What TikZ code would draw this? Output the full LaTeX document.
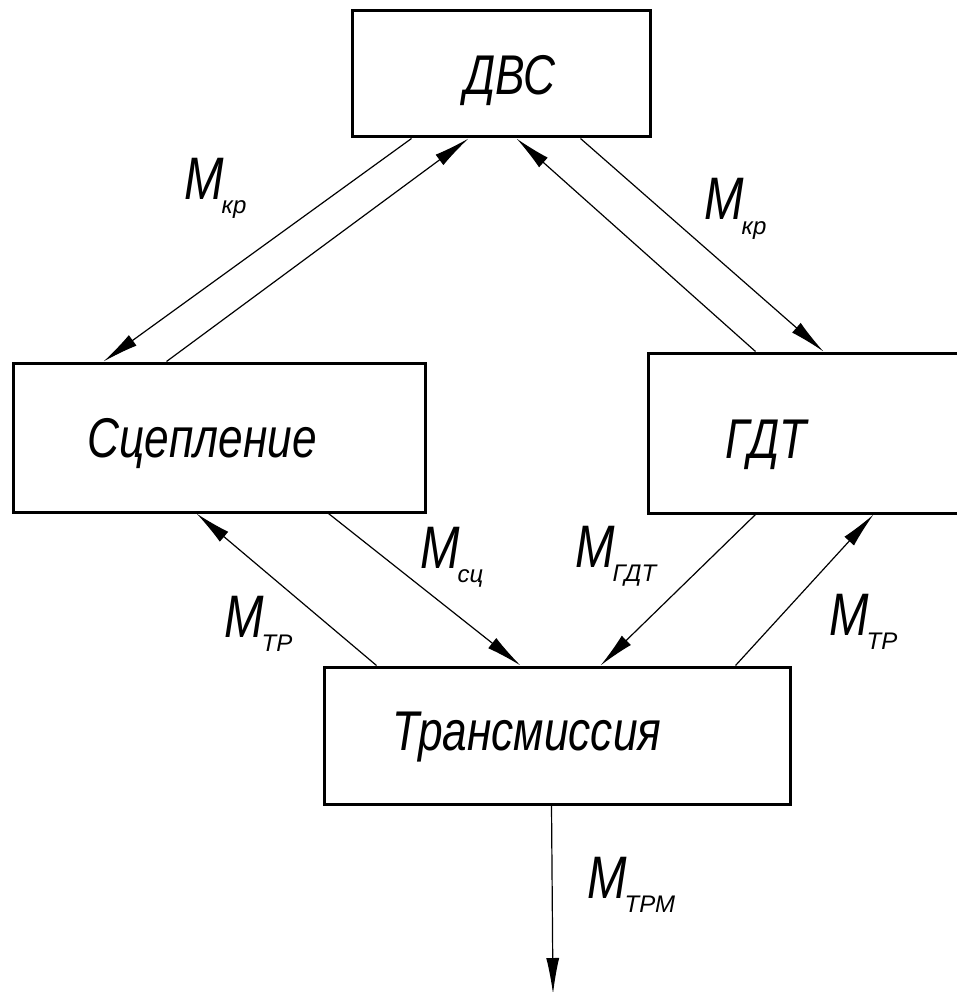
\documentclass[tikz,border=0pt]{standalone}
\usepackage{fontspec}
\setmainfont{Liberation Sans}[FakeStretch=0.79]
\newfontfamily\subfam{Liberation Sans}
\usetikzlibrary{arrows.meta}
\newcommand{\boxfont}{\fontsize{56}{60}\selectfont\itshape}
\newcommand{\Mlab}[1]{{\fontsize{60}{60}\selectfont\itshape M}\kern-2pt\raisebox{-14pt}{\subfam\fontsize{24}{24}\selectfont\itshape #1}}
\tikzset{
  blk/.style={draw=black, line width=3pt, rectangle, inner sep=0pt},
  flow/.style={line width=1.2pt, -{Latex[length=36pt,width=13pt]}},
  lbl/.style={anchor=base west, inner sep=0pt},
  btxt/.style={anchor=base, inner sep=0pt, font=\boxfont}
}
\begin{document}
\begin{tikzpicture}[x=1pt,y=-1pt]
\fill[white] (0,0) rectangle (957,992);
\useasboundingbox (0,0) rectangle (957,992);
% boxes
\node[blk, minimum width=298pt, minimum height=126pt] (dvs) at (501,74) {};
\node[blk, minimum width=412pt, minimum height=149pt] (scep) at (219,437.5) {};
\node[blk, minimum width=362pt, minimum height=160pt] (gdt) at (829,433) {};
\node[blk, minimum width=466pt, minimum height=137pt] (trans) at (557,735.5) {};
% box texts
\node[btxt] (tdvs) at (510,95) {ДВС};
\node[btxt] (tscep) at (202,457) {Сцепление};
\node[btxt] (tgdt) at (766,458) {ГДТ};
\node[btxt] (ttrans) at (527,750) {Трансмиссия};
% connectors
\draw[flow] ([xshift=61pt]dvs.south west) -- ([xshift=92pt]scep.north west);
\draw[flow] ([xshift=155pt]scep.north west) -- ([xshift=118pt]dvs.south west);
\draw[flow] ([xshift=230pt]dvs.south west) -- ([xshift=177pt]gdt.north west);
\draw[flow] ([xshift=109pt]gdt.north west) -- ([xshift=166pt]dvs.south west);
\draw[flow] ([xshift=54pt]trans.north west) -- ([xshift=185pt]scep.south west);
\draw[flow] ([xshift=317pt]scep.south west) -- ([xshift=198pt]trans.north west);
\draw[flow] ([xshift=109pt]gdt.south west) -- ([xshift=278pt]trans.north west);
\draw[flow] ([xshift=413pt]trans.north west) -- ([xshift=227pt]gdt.south west);
\coordinate (out) at (553,994);
\draw[flow] ([xshift=229pt]trans.south west) -- (out);
% labels
\node[lbl] (l1) at (184,200) {\Mlab{кр}};
\node[lbl] (l2) at (704,220) {\Mlab{кр}};
\node[lbl] (l3) at (420,568) {\Mlab{сц}};
\node[lbl] (l4) at (224,637) {\Mlab{ТР}};
\node[lbl] (l5) at (575,567) {\Mlab{ГДТ}};
\node[lbl] (l6) at (829,635) {\Mlab{ТР}};
\node[lbl] (l7) at (587,898) {\Mlab{ТРМ}};
\end{tikzpicture}
\end{document}
